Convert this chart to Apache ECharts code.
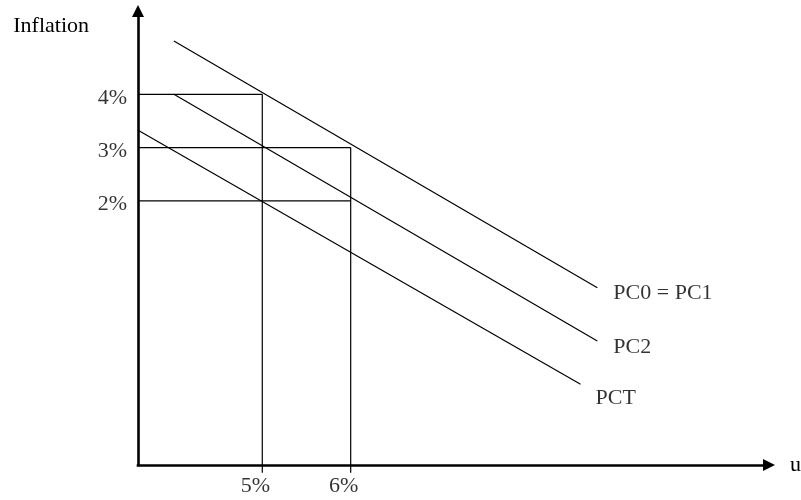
<!DOCTYPE html>
<html>
<head>
<meta charset="utf-8">
<script src="https://cdn.jsdelivr.net/npm/echarts@6/dist/echarts.min.js"></script>
<style>
html,body{margin:0;padding:0;background:#fff;}
#chart{width:801px;height:500px;}
</style>
</head>
<body>
<div id="chart"></div>
<script>
// ---- data ----
const yTicks = [4, 3, 2];
const yTickLabels = ['4%', '3%', '2%'];
const xTicks = [5, 6];
const xTickLabels = ['5%', '6%'];
// horizontal guide lines: inflation level -> unemployment where it stops
const hGuideY = [4, 3, 2];
const hGuideXEnd = [5, 6, 6];
// vertical guide lines: unemployment -> inflation where it stops
const vGuideX = [5, 6];
const vGuideYEnd = [4, 3];
const curveNames = ['PC0 = PC1', 'PC2', 'PCT'];
const pc01 = [[4.0, 5.0], [8.79, 0.37]];
const pc2 = [[4.0, 4.0], [8.79, -0.63]];
const pct = [[3.6, 3.32], [8.6, -1.44]];
const xName = 'u';
const yName = 'Inflation';

// axis extents
const xMin = 3.594, xMax = 10.732;
const yMin = -2.955, yMax = 5.563;
const vGuideBottom = -3.1;

const FONT = 'Liberation Serif';
const series = [];
const thin = {color: '#000', width: 1.2};

hGuideY.forEach((y, i) => {
  series.push({type: 'line', data: [[xMin, y], [hGuideXEnd[i], y]], symbol: 'none',
    lineStyle: thin, silent: true, clip: false, animation: false});
});
vGuideX.forEach((x, i) => {
  series.push({type: 'line', data: [[x, vGuideBottom], [x, vGuideYEnd[i]]], symbol: 'none',
    lineStyle: thin, silent: true, clip: false, animation: false});
});
const curves = [pc01, pc2, pct];
const curveLabelOffsets = [[11, 5], [11, 6], [10, 14]];
curves.forEach((c, i) => {
  series.push({type: 'line', name: curveNames[i], data: c, symbol: 'none',
    lineStyle: thin, silent: true, clip: false, animation: false});
  // curve name label at the end of the curve
  series.push({type: 'scatter', symbolSize: 0, silent: true, animation: false, clip: false,
    data: [{value: c[c.length - 1]}],
    label: {show: true, position: 'right', distance: 5, offset: curveLabelOffsets[i],
      formatter: curveNames[i], fontFamily: FONT, fontSize: 22, color: '#000'}});
});
// y tick labels
series.push({type: 'scatter', symbolSize: 0, silent: true, animation: false, clip: false,
  data: yTicks.map((v, i) => ({value: [xMin, v], label: {formatter: yTickLabels[i]}})),
  label: {show: true, position: 'left', distance: 0, offset: [-11, 3.5],
    fontFamily: FONT, fontSize: 22, color: '#000'}});
// x tick labels
series.push({type: 'scatter', symbolSize: 0, silent: true, animation: false, clip: false,
  data: xTicks.map((v, i) => ({value: [v, yMin], label: {formatter: xTickLabels[i]}})),
  label: {show: true, position: 'inside', offset: [-7, 21],
    fontFamily: FONT, fontSize: 22, color: '#000'}});

const axisLineStyle = {color: '#000', width: 2.6, cap: 'square'};
const chart = echarts.init(document.getElementById('chart'), null, {renderer: 'canvas'});
chart.setOption({
  backgroundColor: '#fff',
  animation: false,
  grid: {left: 138, right: 32, top: 11, bottom: 35, containLabel: false, outerBoundsMode: 'none'},
  xAxis: {type: 'value', min: xMin, max: xMax,
    axisLine: {show: true, onZero: false, lineStyle: axisLineStyle, symbol: ['none', 'triangle'], symbolSize: [12, 12]},
    axisTick: {show: false}, axisLabel: {show: false}, splitLine: {show: false},
    name: xName, nameLocation: 'end', nameGap: 21, nameMoveOverlap: false,
    nameTextStyle: {fontFamily: FONT, fontSize: 22, color: '#000', align: 'left', verticalAlign: 'middle', padding: [8, 0, 0, 0]}},
  yAxis: {type: 'value', min: yMin, max: yMax,
    axisLine: {show: true, onZero: false, lineStyle: axisLineStyle, symbol: ['none', 'triangle'], symbolSize: [12, 12]},
    axisTick: {show: false}, axisLabel: {show: false}, splitLine: {show: false},
    name: yName, nameLocation: 'end', nameGap: -15, nameMoveOverlap: false,
    nameTextStyle: {fontFamily: FONT, fontSize: 22, color: '#000', align: 'right', verticalAlign: 'middle', padding: [0, 49, 0, 0]}},
  series: series
});
</script>
</body>
</html>
